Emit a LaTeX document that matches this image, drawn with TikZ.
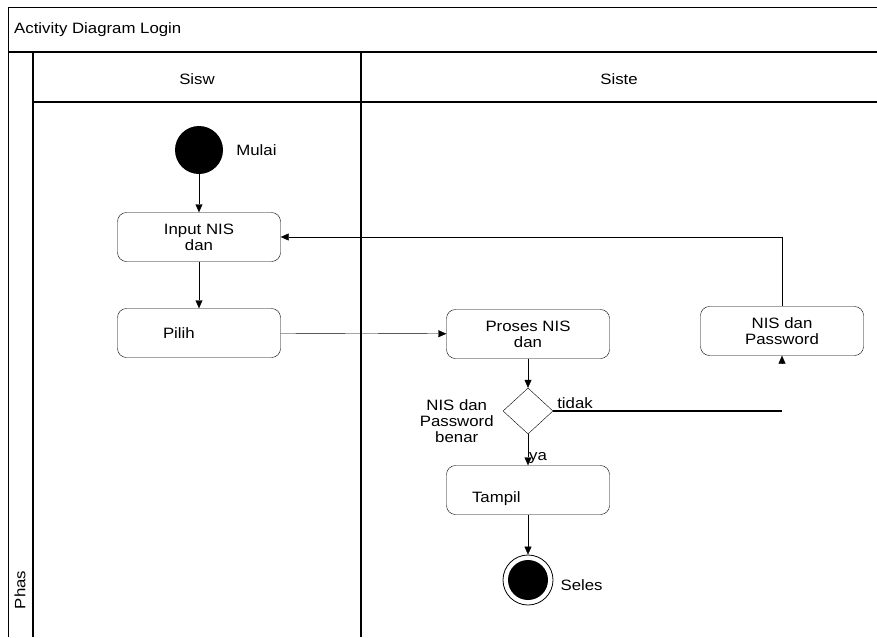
\documentclass[tikz,border=0pt]{standalone}
\usepackage{fontspec}
\setmainfont{Liberation Sans}[FakeStretch=1.12]
\usetikzlibrary{positioning,arrows.meta,shapes.geometric,calc}

\begin{document}
\begin{tikzpicture}[x=1pt,y=-1pt,
  font=\fontsize{15}{16}\selectfont,
  act/.style={draw,rounded corners=9pt,align=center,minimum width=163pt,minimum height=49pt,inner sep=2pt},
  flow/.style={draw,-{Triangle[length=8pt,width=7pt]}},
  lane/.style={line width=1.3pt},
  txt/.style={inner sep=1pt,align=center}]
\useasboundingbox (0,0) rectangle (877,637);
% frame and lanes
\draw[line width=0.9pt] (8,637) -- (8,7) -- (877,7);
\draw[lane] (8,52) -- (877,52);
\draw[lane] (33,52) -- (33,637);
\draw[lane] (361,52) -- (361,637);
\draw[lane] (33,102) -- (877,102);
\node[txt,anchor=west] (title) at (13,30) {Activity Diagram Login};
\node[txt] (siswa) at (197,79) {Sisw};
\node[txt] (sistem) at (619,79) {Siste};
\node[txt,rotate=90] (phase) at (20,590) {Phas};

% activities
\node[circle,fill=black,minimum size=48pt,inner sep=0] (start) at (199,150) {};
\node[txt,right=12pt of start] (mulai) {Mulai};
\node[act] (input) at (199,237) {Input NIS\\dan};
\node[act,text width=72pt,align=left] (pilih) at (199,333) {Pilih};
\node[act] (proses) at (528,334) {Proses NIS\\dan};
\node[act] (salah) at (782,331) {NIS dan\\Password};
\node[diamond,draw,minimum width=50pt,minimum height=46pt,inner sep=0] (dec) at (528,411) {};
\node[txt,left=8pt of dec,yshift=-10pt] (benar) {NIS dan\\Password\\benar};
\node[act,text width=112pt,align=left,text height=25pt,text depth=0pt] (tampil) at (528,490) {Tampil};
\node[circle,draw,minimum size=50pt,inner sep=0,line width=0.8pt] (finish) at (528,580) {};
\fill (finish.center) circle (20pt);
\node[txt,right=6pt of finish,yshift=-5pt] (seles) {Seles};

% flows
\draw[flow] (start) -- (input);
\draw[flow] (input) -- (pilih);
\draw[flow] (pilih) -- (proses);
\draw[flow] (proses) -- (dec);
\draw[flow] (dec) -- node[txt,pos=1,anchor=south west]{ya} (tampil);
\draw[flow] (tampil) -- (finish);
\coordinate (tidakend) at (dec.east -| salah.south);
\draw[line width=2.2pt] (dec.east) -- node[txt,pos=0,anchor=south west,xshift=2pt]{tidak} (tidakend);
\draw[flow] ($(salah.south)+(0,5)$) -- (salah.south);
\draw[flow] (salah.north) |- (input.east);
\end{tikzpicture}
\end{document}
